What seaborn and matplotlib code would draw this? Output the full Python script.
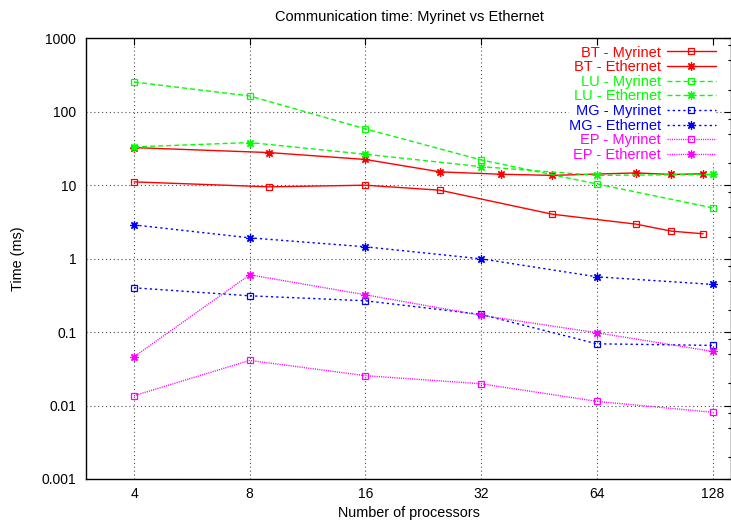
import matplotlib
matplotlib.use("Agg")
import matplotlib.pyplot as plt
import matplotlib.ticker as mticker
import seaborn as sns

# ---------------- data ----------------
title = "Communication time: Myrinet vs Ethernet"
xlabel = "Number of processors"
ylabel = "Time (ms)"

bt_myr_x = [4, 9, 16, 25, 49, 81, 100, 121]
bt_myr_y = [11.1, 9.5, 10.0, 8.55, 4.03, 2.95, 2.37, 2.18]
bt_eth_x = [4, 9, 16, 25, 36, 49, 81, 100, 121]
bt_eth_y = [32.5, 27.8, 22.4, 15.2, 14.1, 13.6, 14.7, 14.0, 14.3]

procs = [4, 8, 16, 32, 64, 128]
lu_myr_y = [254, 164, 58.4, 22.1, 10.4, 4.92]
lu_eth_y = [33.2, 38.1, 26.4, 17.9, 13.6, 14.0]
mg_myr_y = [0.401, 0.312, 0.267, 0.174, 0.0693, 0.0659]
mg_eth_y = [2.88, 1.92, 1.45, 0.995, 0.566, 0.446]
ep_myr_y = [0.0136, 0.0412, 0.0255, 0.0198, 0.0114, 0.0081]
ep_eth_y = [0.0461, 0.603, 0.322, 0.169, 0.098, 0.0546]

series_labels = ["BT - Myrinet", "BT - Ethernet", "LU - Myrinet", "LU - Ethernet",
                 "MG - Myrinet", "MG - Ethernet", "EP - Myrinet", "EP - Ethernet"]

xtick_vals = [4, 8, 16, 32, 64, 128]
xtick_labels = ["4", "8", "16", "32", "64", "128"]
ytick_vals = [0.001, 0.01, 0.1, 1, 10, 100, 1000]
ytick_labels = ["0.001", "0.01", "0.1", "1", "10", "100", "1000"]

# ---------------- style ----------------
sns.set_theme(style="white")
plt.rcParams["font.family"] = ["Liberation Sans", "DejaVu Sans"]
plt.rcParams["axes.edgecolor"] = "black"
plt.rcParams["axes.linewidth"] = 1.0

W, H = 731, 527
fig = plt.figure(figsize=(W / 100, H / 100), dpi=100)
left, right, top, bottom = 86, 731, 38.3, 479
ax = fig.add_axes([left / W, 1 - bottom / H, (right - left) / W, (bottom - top) / H])

RED, GREEN, BLUE, MAG = "#ff0000", "#00ff00", "#0000ff", "#ff00ff"
star = (8, 2, 0)
solid = "-"
dashed = (0, (3.6, 2.2))
mgdash = (0, (1.6, 2.2))
epdot = (0, (0.8, 0.8))

specs = [
    (bt_myr_x, bt_myr_y, RED, solid, "s"),
    (bt_eth_x, bt_eth_y, RED, solid, star),
    (procs, lu_myr_y, GREEN, dashed, "s"),
    (procs, lu_eth_y, GREEN, dashed, star),
    (procs, mg_myr_y, BLUE, mgdash, "s"),
    (procs, mg_eth_y, BLUE, mgdash, star),
    (procs, ep_myr_y, MAG, epdot, "s"),
    (procs, ep_eth_y, MAG, epdot, star),
]

for (xs, ys, col, ls, mk), lab in zip(specs, series_labels):
    sns.lineplot(x=xs, y=ys, ax=ax, color=col, linestyle=ls, linewidth=1.0,
                 marker=mk, markersize=4.6 if mk == "s" else 6.0,
                 markerfacecolor="none", markeredgecolor=col, markeredgewidth=0.9,
                 label=lab)

ax.set_xscale("log", base=2)
ax.set_yscale("log")
ax.set_xlim(3, 143)
ax.set_ylim(0.001, 1000)

ax.xaxis.set_major_locator(mticker.FixedLocator(xtick_vals))
ax.xaxis.set_major_formatter(mticker.FixedFormatter(xtick_labels))
ax.xaxis.set_minor_locator(mticker.NullLocator())
ax.yaxis.set_major_locator(mticker.FixedLocator(ytick_vals))
ax.yaxis.set_major_formatter(mticker.FixedFormatter(ytick_labels))
ax.yaxis.set_minor_locator(mticker.LogLocator(base=10, subs=[2, 5, 8]))
ax.yaxis.set_minor_formatter(mticker.NullFormatter())

ax.tick_params(which="both", direction="in", top=True, right=True, colors="black",
               labelsize=10)
ax.tick_params(which="major", length=4.7, width=0.8)
ax.tick_params(which="minor", length=2.4, width=0.8)
ax.tick_params(axis="x", pad=6)
ax.tick_params(axis="y", pad=7)

ax.grid(True, which="major", color="0.3", linestyle=(0, (1, 2.5)), linewidth=0.8)
ax.set_xlabel("")
ax.set_ylabel("")

handles, labels = ax.get_legend_handles_labels()
leg = ax.legend(handles, labels, markerfirst=False, labelcolor="linecolor",
                loc="upper right", bbox_to_anchor=(716 / W, 1 - 45.5 / H),
                bbox_transform=fig.transFigure, fontsize=10.5,
                handlelength=3.36, handletextpad=0.41, labelspacing=0.045,
                borderpad=0.0, borderaxespad=0.0, frameon=True, fancybox=False,
                framealpha=1.0)
leg.get_frame().set_facecolor("white")
leg.get_frame().set_edgecolor("none")
leg.set_zorder(1)

fig.text(409 / W, 1 - 21 / H, title, ha="center", va="baseline", fontsize=10.5, color="black")
fig.text(409 / W, 1 - 513 / H, xlabel, ha="center", va="center", fontsize=10.4, color="black")
fig.text(18 / W, 1 - 258.5 / H, ylabel, ha="center", va="center", rotation=90,
         fontsize=10.4, color="black")

fig.savefig("out.png", dpi=100)
